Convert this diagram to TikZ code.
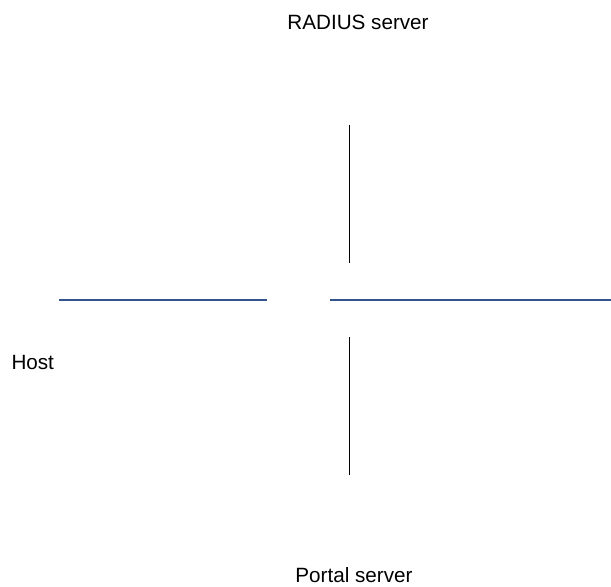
\documentclass[tikz,border=0pt]{standalone}
\usepackage{fontspec}
\setmainfont{Liberation Sans}

\tikzset{every picture/.style={line width=0.75pt}}
\tikzset{
  label text/.style={inner sep=0.75pt, font=\fontsize{15.5}{18}\selectfont},
  host link/.style={draw={rgb, 255:red, 50; green, 84; blue, 138}, line width=1.5pt},
  server link/.style={draw=black, line width=1.1pt}
}

\begin{document}
\begin{tikzpicture}[x=0.75pt,y=0.75pt,yscale=-1,xscale=1]
		\useasboundingbox (0,0) rectangle (611,586);

		% Text Node
		\node (radius) [label text, anchor=base] at (358,29.3) {RADIUS server};
		% Text Node
		\node (host) [label text, anchor=base west] at (10,369) {Host};
		% Text Node
		\node (portal) [label text, anchor=base] at (354,582.5) {Portal server};

		% line ends
		\coordinate (radiusTop) at (349.3,125);
		\coordinate (radiusBot) at (349.3,263);
		\coordinate (portalTop) at (349.3,337);
		\coordinate (portalBot) at (349.3,475);
		\coordinate (hostLeft) at (59,300);
		\coordinate (hostRight) at (267,300);
		\coordinate (devLeft) at (330,300);
		\coordinate (devRight) at (611,300);

		%Straight Lines
		\draw [server link] (radiusTop) -- (radiusBot) ;
		%Straight Lines
		\draw [server link] (portalTop) -- (portalBot) ;
		%Straight Lines
		\draw [host link] (hostLeft) -- (hostRight) ;
		%Straight Lines
		\draw [host link] (devLeft) -- (devRight) ;

	\end{tikzpicture}
\end{document}
